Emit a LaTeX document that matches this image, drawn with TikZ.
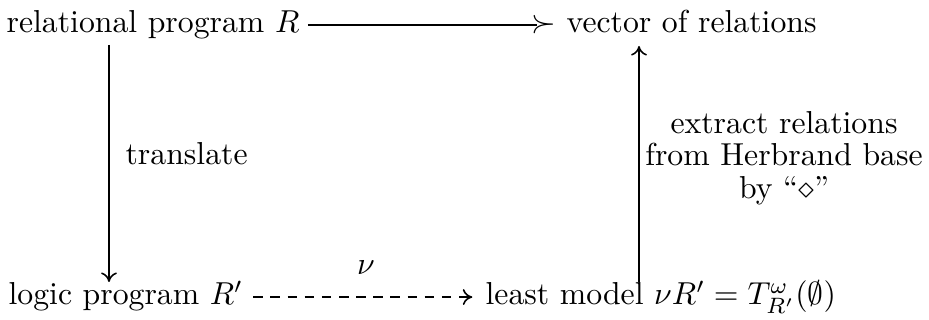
\documentclass[tikz,border=0pt]{standalone}
\usetikzlibrary{arrows.meta}
\begin{document}
\begin{tikzpicture}[x=0.315pt,y=-0.315pt,
  lbl/.style={inner sep=0pt},
  conn/.style={line width=0.5pt},
  cmarrow/.style={conn,-{Computer Modern Rightarrow[length=3pt,width=5pt]}},
  dashline/.style={cmarrow,dash pattern=on 3pt off 2.4pt}]
\useasboundingbox (0,0) rectangle (929,320);
% nodes
\node[lbl,anchor=base west] (R) at (6,33) {relational program $R$};
\node[lbl,anchor=base west] (V) at (566,33) {vector of relations};
\node[lbl,anchor=base west] (L) at (8,305) {logic program $R'$};
\node[lbl,anchor=base west] (M) at (485,305) {least model $\nu R' = T^{\omega}_{R'}(\emptyset)$};
\node[lbl,anchor=base west] (tr) at (125,165) {translate};
\node[lbl,align=center] (ex) at (784,158) {extract relations\\[-1.8pt]from Herbrand base\\[-1.8pt]by ``$\diamond$''};
\node[lbl] (nu) at (366,268) {$\nu$};
% coordinates for vertical arrows
\coordinate (l1) at (109,45);
\coordinate (l2) at (109,282);
\coordinate (r1) at (639,282);
\coordinate (r2) at (639,46);
% connectors
\draw[conn] ([xshift=2.5pt,yshift=2.5pt]R.base east) -- ([xshift=-9pt,yshift=2.5pt]V.base west)
  node[at end,anchor=west,inner sep=0pt,xshift=-2.2pt,yshift=0.2pt] {$\succ$};
\draw[cmarrow] (l1) -- (l2);
\draw[cmarrow] (r1) -- (r2);
\draw[dashline] ([xshift=3pt,yshift=2.5pt]L.base east) -- ([xshift=-4pt,yshift=2.5pt]M.base west);
\end{tikzpicture}
\end{document}
